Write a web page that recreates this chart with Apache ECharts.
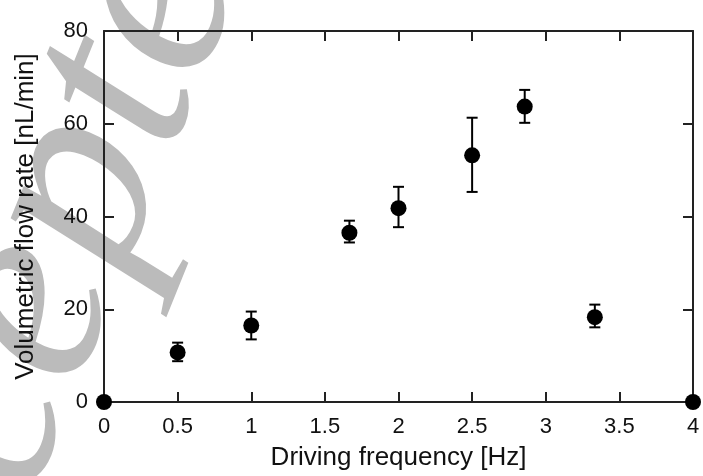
<!DOCTYPE html>
<html>
<head>
<meta charset="utf-8">
<script src="https://cdn.jsdelivr.net/npm/echarts@6/dist/echarts.min.js"></script>
<style>html,body{margin:0;padding:0;background:#fff;}#c{width:703px;height:476px;}</style>
</head>
<body>
<div id="c"></div>
<script>
// Data
const frequency = [0, 0.5, 1, 5/3, 2, 2.5, 20/7, 10/3, 4];
const flowRate  = [0, 10.7, 16.5, 36.5, 41.8, 53.2, 63.7, 18.3, 0];
const errLow    = [null, 8.8, 13.5, 34.4, 37.7, 45.3, 60.2, 16.1, null];
const errHigh   = [null, 12.8, 19.5, 39.1, 46.4, 61.3, 67.3, 21.0, null];
const xTicks = [0, 0.5, 1, 1.5, 2, 2.5, 3, 3.5, 4];
const yTicks = [0, 20, 40, 60, 80];
const xTitle = 'Driving frequency [Hz]';
const yTitle = 'Volumetric flow rate [nL/min]';
const watermark = 'Accepted';

const chart = echarts.init(document.getElementById('c'), null, {renderer: 'canvas'});
const axisCol = '#222';
const font = "'Liberation Sans', Arial, sans-serif";

const pts = frequency.map((f, i) => [f, flowRate[i]]);
const errs = frequency.map((f, i) => [f, errLow[i], errHigh[i]]).filter(d => d[1] != null);

function baseX(pos, show) {
  return {
    type: 'value', position: pos, min: xTicks[0], max: xTicks[xTicks.length - 1], interval: 0.5,
    axisLine: {show: true, onZero: false, lineStyle: {color: axisCol, width: 2}},
    axisTick: {show: true, inside: true, length: 10, lineStyle: {color: axisCol, width: 2}},
    axisLabel: {show: show, color: '#111', fontSize: 22, fontFamily: font, margin: 14,
      formatter: v => String(Math.round(v * 10) / 10)},
    splitLine: {show: false}
  };
}
function baseY(pos, show) {
  return {
    type: 'value', position: pos, min: yTicks[0], max: yTicks[yTicks.length - 1], interval: 20,
    axisLine: {show: true, onZero: false, lineStyle: {color: axisCol, width: 2}},
    axisTick: {show: true, inside: true, length: 10, lineStyle: {color: axisCol, width: 2}},
    axisLabel: {show: show, color: '#111', fontSize: 22, fontFamily: font, margin: 16},
    splitLine: {show: false}
  };
}

const xa = baseX('bottom', true);
xa.name = xTitle; xa.nameLocation = 'middle'; xa.nameGap = 43;
xa.nameTextStyle = {color: '#111', fontSize: 26, fontFamily: font};
const ya = baseY('left', true);
ya.name = yTitle; ya.nameLocation = 'middle'; ya.nameGap = 65; ya.nameRotate = 90;
ya.nameTextStyle = {color: '#111', fontSize: 26, fontFamily: font};

chart.setOption({
  animation: false,
  backgroundColor: '#fff',
  grid: {left: 104, right: 10, top: 31, bottom: 74, containLabel: false},
  graphic: [{
    type: 'text', z: -100, silent: true,
    x: 42, y: 282, rotation: 68 * Math.PI / 180,
    style: {text: watermark, font: "italic 270px 'Liberation Serif', serif", fill: '#bbbbbb',
      align: 'center', verticalAlign: 'middle'}
  }],
  xAxis: [xa, baseX('top', false)],
  yAxis: [ya, baseY('right', false)],
  series: [
    {
      type: 'custom', xAxisIndex: 0, yAxisIndex: 0, clip: false, z: 3,
      data: errs,
      renderItem: function (params, api) {
        const x = api.value(0);
        const lo = api.coord([x, api.value(1)]);
        const hi = api.coord([x, api.value(2)]);
        const hw = 5.5;
        const st = {stroke: '#000', lineWidth: 2};
        return {type: 'group', children: [
          {type: 'line', shape: {x1: lo[0], y1: lo[1], x2: hi[0], y2: hi[1]}, style: st},
          {type: 'line', shape: {x1: lo[0] - hw, y1: lo[1], x2: lo[0] + hw, y2: lo[1]}, style: st},
          {type: 'line', shape: {x1: hi[0] - hw, y1: hi[1], x2: hi[0] + hw, y2: hi[1]}, style: st}
        ]};
      }
    },
    {
      type: 'scatter', xAxisIndex: 0, yAxisIndex: 0, clip: false, z: 4,
      data: pts, symbol: 'circle', symbolSize: 16,
      itemStyle: {color: '#000', opacity: 1}
    }
  ]
});
</script>
</body>
</html>
